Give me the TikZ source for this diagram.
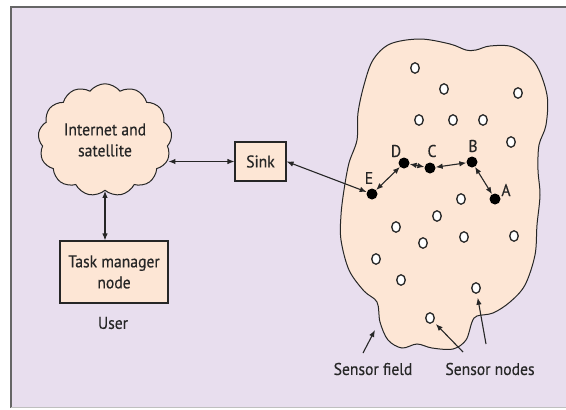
\documentclass[tikz,border=0pt]{standalone}
\usepackage{fontspec}
\setmainfont[FakeStretch=0.92,FakeBold=0.4]{PT Sans}
\usetikzlibrary{arrows.meta,shapes.symbols,shapes.geometric}
\definecolor{bgc}{HTML}{E8DEEE}
\definecolor{peach}{HTML}{FDE6D5}
\definecolor{ink}{HTML}{262626}
\begin{document}
\begin{tikzpicture}[x=1pt,y=-1pt,
  every node/.style={font=\fontsize{17}{21}\selectfont, text=ink},
  box/.style={draw=ink, fill=peach, line width=1.1pt, inner sep=0pt},
  dot/.style={circle, fill=black, inner sep=0pt, minimum size=11pt},
  hole/.style={ellipse, draw=ink, fill=white, line width=1.3pt, inner sep=0pt, minimum width=8.5pt, minimum height=10.5pt},
  dbl/.style={{Latex[length=7pt,width=5.5pt]}-{Latex[length=7pt,width=5.5pt]}, line width=1.1pt, draw=ink},
  sgl/.style={-{Latex[length=7pt,width=5.5pt]}, line width=1.1pt, draw=ink}]
\useasboundingbox (0,0) rectangle (566,410);
\fill[bgc] (11,7) rectangle (566,408);
\draw[black!60, line width=1.3pt] (11,408) -- (11,7) -- (566,7);
\draw[black!25, line width=0.6pt] (11,407.5) -- (566,407.5);

% Internet cloud
\node[cloud, draw=ink, fill=peach, line width=1pt, cloud puffs=13, cloud puff arc=105,
      aspect=1.25, minimum width=128pt, minimum height=100pt, align=center] (inet) at (105,140) {Internet and\\satellite};
\node[box, minimum width=51pt, minimum height=39pt] (sink) at (260.5,161.5) {Sink};
\node[box, minimum width=108pt, minimum height=62pt, align=center] (task) at (114,272) {Task manager\\node};
\node (user) at (113,323) {User};

% Sensor field
\draw[draw=ink, fill=peach, line width=1pt] plot[smooth cycle, tension=0.55] coordinates {
 (390,44) (420,39) (450,44) (466,50) (476,50) (490,46) (513,47) (535,63) (547,95) (546,125)
 (539,145) (538,170) (540,195) (537,225) (535,255) (525,285) (510,302) (493,313) (477,316)
 (472,322) (466,340) (453,349) (432,348) (417,344) (402,348) (388,340) (380,322) (377,302)
 (364,291) (349,270) (341,240) (341,215) (344,190) (349,163) (357,140) (358,113) (364,85) (373,60)};

% sensor nodes (open)
\foreach \i/\p in {1/{(415,68)},2/{(444,89)},3/{(518,93)},4/{(419,120)},5/{(453,120)},6/{(483,120)},
  7/{(511,142)},8/{(461,199)},9/{(437,216)},10/{(396,227)},11/{(423,243)},12/{(464,237)},
  13/{(514,236)},14/{(376,259)},15/{(401,280)},16/{(476,288)},17/{(430,318)}}
  \node[hole] (n\i) at \p {};

% route nodes
\node[dot] (E) at (372,194) {};
\node[dot] (D) at (404,163) {};
\node[dot] (C) at (430,168) {};
\node[dot] (B) at (472,162) {};
\node[dot] (A) at (495,199) {};
\node (lE) at (369,178) {E};
\node (lD) at (396,151) {D};
\node (lC) at (432,151) {C};
\node (lB) at (473,146) {B};
\node (lA) at (506,190) {A};

% connectors
\draw[dbl] ([xshift=-3pt]inet.east |- sink.west) -- (sink.west);
\draw[dbl] (inet.south) -- (inet.south |- task.north);
\draw[dbl] (sink.east) -- (E);
\draw[dbl] (E) -- (D);
\draw[dbl] (D) -- (C);
\draw[dbl] (C) -- (B);
\draw[dbl] (B) -- (A);

% labels
\node (sf) at (373,369) {Sensor field};
\node (sn) at (490,369) {Sensor nodes};
\coordinate (sft) at (363,353);
\coordinate (sfh) at (375,330);
\draw[sgl] (sft) -- (sfh);
\coordinate (snt1) at (463,352);
\coordinate (snt2) at (486,344);
\draw[sgl, shorten >=3pt] (snt1) -- (n17);
\draw[sgl, shorten >=4pt] (snt2) -- (n16);
\end{tikzpicture}
\end{document}
